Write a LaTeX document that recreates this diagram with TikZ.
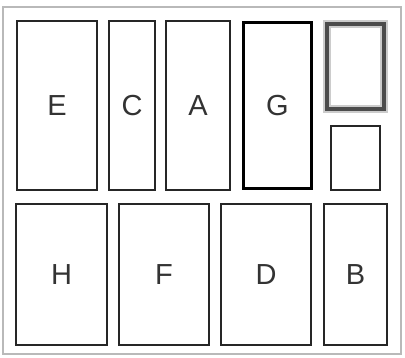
\documentclass[tikz,border=0pt]{standalone}
\usepackage{fontspec}
\setmainfont{Liberation Sans}
\usepackage{tikz}
\usetikzlibrary{positioning}

\tikzstyle{binbox} = [
  rectangle, draw=black!85, line width=2pt, inner sep=0pt,
  font=\fontsize{29}{32}\selectfont, text=black!80
]
\tikzstyle{heavybox} = [binbox, draw=black, line width=3.6pt]
\tikzstyle{shadebox} = [
  rectangle, inner sep=0pt, draw=black!70, line width=4.5pt,
  preaction={draw=gray!40, line width=7.5pt}
]
\tikzstyle{framebox} = [rectangle, draw=gray!55, line width=2pt, inner sep=0pt]

\begin{document}
\begin{tikzpicture}[x=1pt, y=-1pt]
\useasboundingbox (0,0) rectangle (405,358);

% --- Frame ---
\node[framebox, minimum width=398pt, minimum height=347pt] (frame) at (202,181) {};

% --- Top row ---
\node[binbox, minimum width=80pt, minimum height=169pt] (e) at (57,105.5) {E};
\node[binbox, minimum width=46pt, minimum height=169pt] (c) at (132,105.5) {C};
\node[binbox, minimum width=64pt, minimum height=169pt] (a) at (198,105.5) {A};
\node[heavybox, minimum width=68pt, minimum height=166pt] (g) at (277.5,105.5) {G};
\node[shadebox, minimum width=57pt, minimum height=85pt] (slot) at (355.5,66.5) {};
\node[binbox, minimum width=49pt, minimum height=64pt] (small) at (355.5,158) {};

% --- Bottom row ---
\node[binbox, minimum width=91pt, minimum height=141pt] (h) at (61.5,274.5) {H};
\node[binbox, minimum width=90pt, minimum height=141pt] (f) at (164,274.5) {F};
\node[binbox, minimum width=90pt, minimum height=141pt] (d) at (266,274.5) {D};
\node[binbox, minimum width=63pt, minimum height=141pt] (b) at (355.5,274.5) {B};

\end{tikzpicture}
\end{document}
